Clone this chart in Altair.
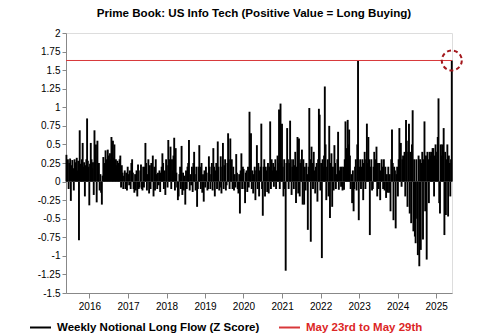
import altair as alt
import pandas as pd

# Weekly Notional Long Flow (Z Score), weekly from 2015-05-28 to 2025-05-29
flow_2015_2016 = [
    0.36, 0.28, 0.3, -0.1, 0.25, 0.31, -0.26, 0.22, 0.29, 0.18,
    -0.12, 0.3, 0.26, 0.2, 0.32, 0.15, 0.28, -0.79, 0.69, 0.24,
    0.18, 0.3, 0.52, 0.2, 0.26, -0.2, 0.22, 0.3, 0.85, 0.28,
    0.2, -0.32, 0.24, 0.52, 0.3, 0.18, 0.26, -0.18, 0.69, 0.35,
    0.5, -0.28, 0.55, 0.2, 0.25, -0.12, 0.1, -0.15, -0.31, 0.08,
    0.33, 0.2, 0.25, 0.42, 0.3, 0.22, 0.43, 0.35, 0.28, 0.38,
    0.3, 0.6, 0.4, 0.55, 0.32, 0.5, 0.25, 0.3, 0.22, 0.28,
    0.2, 0.25, 0.3, 0.35, -0.08, 0.22, 0.12, -0.1, 0.08, 0.15,
    -0.1, 0.12, -0.12, 0.2, 0.1, -0.05, 0.15, -0.1, 0.25, 0.3,
    0.12, -0.1, -0.15, 0.1, -0.12, 0.15, -0.2, 0.23, -0.1, -0.08,
]
flow_2017_2018 = [
    0.15, 0.23, -0.1, -0.12, 0.2, -0.08, 0.2, 0.52, 0.25, -0.12,
    0.1, 0.3, -0.16, 0.22, -0.1, 0.25, 0.12, 0.35, -0.2, 0.2,
    -0.12, 0.3, 0.1, -0.1, 0.12, -0.05, 0.15, -0.14, 0.12, 0.2,
    0.38, 0.25, -0.1, 0.15, -0.18, 0.3, 0.22, -0.08, 0.56, 0.3,
    0.2, 0.47, -0.1, 0.3, 0.15, 0.35, 0.59, -0.12, 0.45, 0.12,
    -0.08, -0.25, -0.2, 0.1, 0.2, -0.1, 0.48, -0.18, 0.12, -0.12,
    0.08, -0.31, 0.15, -0.1, 0.2, 0.25, 0.56, -0.12, 0.1, -0.05,
    0.2, -0.14, 0.25, 0.4, 0.1, -0.12, 0.2, -0.34, -0.1, 0.2,
    0.49, 0.2, -0.1, 0.25, -0.15, 0.1, -0.27, 0.15, -0.08, 0.2,
    0.12, -0.12, -0.1, 0.34, 0.2, -0.1, 0.1, 0.25, -0.12, 0.45,
]
flow_2019_2020 = [
    0.2, -0.2, 0.15, 0.25, -0.1, 0.54, 0.2, -0.12, -0.08, 0.34,
    -0.16, 0.2, 0.52, -0.1, 0.22, 0.3, -0.12, -0.05, 0.25, 0.65,
    0.3, -0.1, 0.58, 0.15, 0.3, -0.1, 0.2, -0.12, 0.1, -0.08,
    0.37, 0.12, -0.1, -0.16, 0.1, -0.43, 0.15, 0.38, -0.1, 0.2,
    0.17, -0.1, -0.29, 0.12, 0.15, -0.14, 0.2, -0.08, 0.94, 0.3,
    0.65, -0.1, 0.15, -0.16, 0.1, 0.2, -0.25, 0.15, 0.49, -0.1,
    0.25, -0.2, 0.15, 0.2, 0.78, -0.1, -0.46, 0.2, 0.3, -0.2,
    0.2, 0.15, -0.14, 0.25, -0.16, 0.2, 0.81, -0.1, 0.3, 0.15,
    0.25, -0.07, 0.2, 0.3, -0.1, 0.15, 0.35, 0.25, 0.97, -0.1,
    1.05, 0.25, 0.78, 0.2, -0.2, 0.3, -0.1, -1.2, 0.25, 0.72,
]
flow_2021_2022 = [
    0.3, -0.1, 0.25, 0.82, 0.3, -0.18, 0.2, 0.3, -0.1, 0.22,
    0.4, -0.29, 0.2, 0.6, -0.16, 0.58, -0.2, 0.25, 0.3, 0.43,
    -0.31, 0.3, -0.31, 0.2, -0.12, 0.25, 0.1, -0.65, 0.2, 0.99,
    0.3, -0.81, 0.47, 0.25, -0.1, 0.4, 0.15, -0.16, 0.2, 0.25,
    -0.27, 0.3, 0.98, 0.9, -0.12, 0.25, -1.03, 0.3, 0.2, 0.35,
    1.28, 0.5, -0.25, 0.2, 0.3, -0.2, 0.75, -0.49, 0.25, 0.38,
    -0.34, 0.2, -0.12, 0.49, 0.25, -0.1, 0.1, 0.3, 0.67, -0.11,
    0.15, 0.2, -0.07, 0.2, -0.12, 0.2, -0.11, 0.3, 0.81, 0.45,
    0.4, 0.83, 0.5, 0.7, 0.35, -0.1, 0.1, -0.29, 0.15, -0.4,
    -0.1, 0.2, 0.3, -0.12, 0.5, 1.63, -0.52, 0.2, 0.3, -0.1,
]
flow_2023_2025 = [
    0.2, 0.3, -0.25, 0.25, 0.4, -0.1, 0.3, 0.78, 0.25, 0.6,
    0.3, -0.72, 0.2, 0.3, -0.12, -0.1, 0.2, 0.4, 0.25, 0.3,
    0.47, -0.2, 0.25, -0.1, 0.25, -0.25, 0.15, 0.3, 0.2, -0.1,
    0.3, -0.12, 0.2, -0.22, 0.1, -0.15, 0.2, -0.15, 0.1, -0.4,
    0.3, 0.7, 0.25, -0.52, 0.2, 0.15, -0.63, 0.1, 0.2, -0.2,
    0.3, 0.72, 0.25, 0.52, -0.07, 0.3, 0.35, 0.2, 0.4, -0.2,
    0.83, 0.55, -0.34, 0.4, 0.78, -0.43, 0.4, -0.56, 0.5, 0.96,
    -0.67, 0.3, -0.74, -0.83, 0.3, -0.5, -0.99, 0.35, -1.14, 0.3,
    -0.92, 0.25, 0.4, -0.78, 0.3, 0.81, -0.4, 0.35, -1.05, 0.4,
    0.3, -0.29, 0.4, 0.35, 0.4, 0.3, 0.45, 0.45, -0.2, 0.35,
    0.5, 0.3, 0.4, 0.6, 1.12, -0.29, -0.43, 0.5, 0.35, 0.5,
    0.4, 0.72, -0.72, 0.4, -0.45, 0.3, 0.5, -0.47, 0.35, 0.25,
    -0.2, 0.3, 1.63,
]

flow_values = flow_2015_2016 + flow_2017_2018 + flow_2019_2020 + flow_2021_2022 + flow_2023_2025
first_week = "2015-05-28"
latest_value = 1.63

series_names = ["Weekly Notional Long Flow (Z Score)", "May 23rd to May 29th"]
series_colors = ["#000000", "#d8383a"]
year_ticks = [f"{y}-01-01" for y in range(2016, 2026)]
y_ticks = [-1.5, -1.25, -1, -0.75, -0.5, -0.25, 0, 0.25, 0.5, 0.75, 1, 1.25, 1.5, 1.75, 2]

dates = pd.date_range(first_week, periods=len(flow_values), freq="7D")
df = pd.DataFrame({"date": dates, "value": flow_values, "series": series_names[0]})
line_df = pd.DataFrame({"value": [latest_value], "series": [series_names[1]]})
last_df = df.tail(1)

FONT = "Liberation Sans"

x_scale = alt.Scale(domain=["2015-05-24", "2025-05-31"])
y_scale = alt.Scale(domain=[-1.5, 2], nice=False, zero=False)
color_scale = alt.Scale(domain=series_names, range=series_colors)

x_axis = alt.Axis(
    values=year_ticks,
    format="%Y",
    title=None,
    grid=False,
    tickSize=5,
    labelPadding=3,
    labelOverlap=False,
)
y_axis = alt.Axis(
    values=y_ticks,
    labelExpr="datum.value + ''",
    title=None,
    grid=False,
    tickSize=4,
    labelPadding=2,
    labelOverlap=False,
    labelFlush=False,
)

legend = alt.Legend(
    title=None,
    orient="none",
    direction="horizontal",
    columns=2,
    legendX=-37,
    legendY=283,
    symbolType="stroke",
    symbolSize=441,
    symbolStrokeWidth=2,
    symbolOffset=0,
    labelOffset=5,
    columnPadding=15,
    labelFont=FONT,
    labelFontSize=11.5,
    labelFontWeight="bold",
    labelLimit=400,
    labelColor={"expr": "datum.label == 'May 23rd to May 29th' ? '#dc2626' : '#000000'"},
)

bars = alt.Chart(df).mark_rule(strokeWidth=1.9).encode(
    x=alt.X("date:T", scale=x_scale, axis=x_axis),
    y=alt.Y("value:Q", scale=y_scale, axis=y_axis),
    y2=alt.datum(0),
    color=alt.Color("series:N", scale=color_scale, legend=legend),
)

red_line = alt.Chart(line_df).mark_rule(strokeWidth=1).encode(
    y=alt.Y("value:Q", scale=y_scale, axis=y_axis),
    color=alt.Color("series:N", scale=color_scale, legend=legend),
)

circle = alt.Chart(last_df).mark_point(
    shape="circle",
    size=400,
    filled=False,
    stroke="#a3171c",
    strokeWidth=2,
    strokeDash=[4, 3],
    opacity=1,
).encode(
    x=alt.X("date:T", scale=x_scale, axis=x_axis),
    y=alt.Y("value:Q", scale=y_scale, axis=y_axis),
)

chart = (
    alt.layer(bars, red_line, circle)
    .properties(
        width=386,
        height=260,
        title=alt.Title(
            "Prime Book: US Info Tech (Positive Value = Long Buying)",
            font=FONT,
            fontSize=11.6,
            fontWeight="bold",
            color="#000000",
            anchor="middle",
            offset=8,
            dx=-5,
        ),
        autosize=alt.AutoSizeParams(type="none"),
        padding={"left": 66, "top": 33, "right": 48, "bottom": 43},
    )
    .configure_view(stroke="#808080", strokeWidth=1.5)
    .configure_axis(
        domainColor="#808080",
        domainWidth=1.5,
        tickColor="#808080",
        labelFont=FONT,
        labelFontSize=11.5,
        labelFontWeight="bold",
        labelColor="#000000",
    )
    .configure(background="white")
)

chart.save("out.html", embed_options={"renderer": "svg", "actions": False})
